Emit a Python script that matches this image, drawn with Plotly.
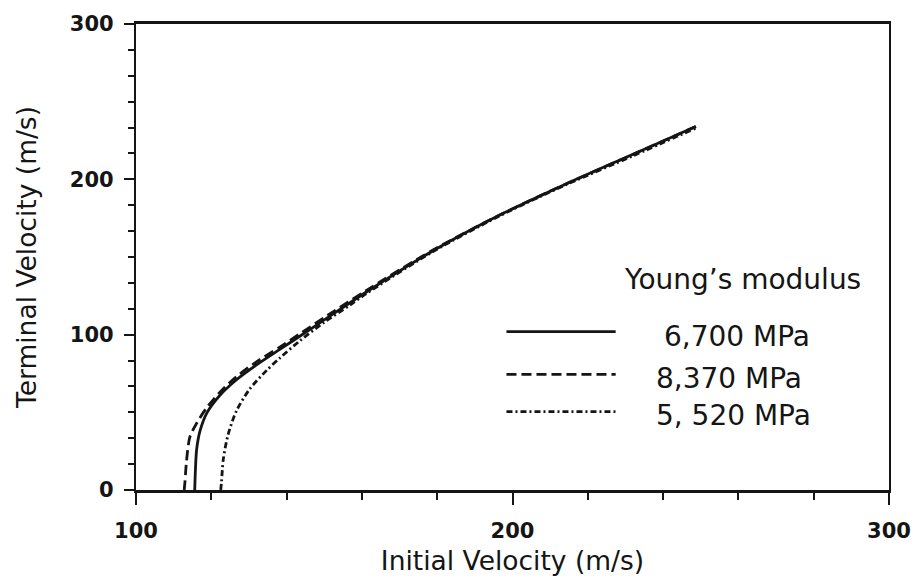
import plotly.graph_objects as go

# ---- data ----
series_names = ["6,700 MPa", "8,370 MPa", "5, 520 MPa"]
legend_title = "Young’s modulus"

x_6700 = [115.6, 115.8, 116.1, 117.0, 118.8, 122.3, 126.7, 132.0, 138.2, 143.5, 150.0, 161.2, 178.9, 196.6, 214.2, 231.9, 248.7]
y_6700 = [0, 14, 26, 38, 49.5, 61, 71, 80.5, 90.5, 99, 109.5, 127.5, 154, 177, 197, 216, 234]

x_8370 = [112.8, 113.0, 113.4, 114.3, 116.1, 118.8, 122.3, 126.7, 132.0, 138.2, 143.5, 150.0, 161.2, 178.9, 196.6, 214.2, 231.9, 248.7]
y_8370 = [0, 5, 18, 34, 43, 53, 63, 73, 82.5, 92, 100.5, 111, 128.5, 154.5, 177, 197, 216, 234]

x_5520 = [122.5, 122.7, 123.2, 124.5, 126.7, 130.2, 134.7, 138.2, 143.5, 150.0, 156.8, 161.2, 178.9, 196.6, 214.2, 231.9, 248.7]
y_5520 = [0, 5, 20, 36, 51, 65, 77, 85, 96, 108, 119, 126.5, 153.5, 176.5, 196.5, 215, 233]

x_ticks = [100, 200, 300]
x_tick_labels = ["100", "200", "300"]
y_ticks = [0, 100, 200, 300]
y_tick_labels = ["0", "100", "200", "300"]

x_title = "Initial Velocity (m/s)"
y_title = "Terminal Velocity (m/s)"

# ---- styling ----
INK = "#151515"
FONT = "DejaVu Sans"
dashes = ["solid", "10px,5px", "6px,3px,2px,3px"]

fig = go.Figure()
for xs, ys, name, dash in zip([x_6700, x_8370, x_5520], [y_6700, y_8370, y_5520], series_names, dashes):
    fig.add_trace(go.Scatter(x=xs, y=ys, mode="lines", name=name,
                             line=dict(color=INK, width=2.8, dash=dash, shape="spline", smoothing=0.8),
                             showlegend=False))

# custom legend (samples + labels)
legend_rows_y = [0.340, 0.248, 0.168]
legend_text_y = [0.329, 0.240, 0.159]
legend_text_x = [0.698, 0.688, 0.688]
for name, dash, ly, ty, tx in zip(series_names, dashes, legend_rows_y, legend_text_y, legend_text_x):
    fig.add_shape(type="line", xref="paper", yref="paper", x0=0.492, x1=0.637, y0=ly, y1=ly,
                  line=dict(color=INK, width=2.8, dash=dash))
    fig.add_annotation(xref="paper", yref="paper", x=tx, y=ty, text=name, showarrow=False,
                       xanchor="left", yanchor="middle", font=dict(family=FONT, size=28, color=INK))
fig.add_annotation(xref="paper", yref="paper", x=0.646, y=0.452, text=legend_title, showarrow=False,
                   xanchor="left", yanchor="middle", font=dict(family=FONT, size=28, color=INK))

fig.update_layout(
    width=923, height=585,
    margin=dict(l=136, r=33, t=19, b=95),
    paper_bgcolor="white", plot_bgcolor="white",
    font=dict(family=FONT, color=INK),
)
fig.update_xaxes(
    range=[100, 300], tickvals=x_ticks, ticktext=x_tick_labels,
    showgrid=False, zeroline=False,
    showline=True, linecolor=INK, linewidth=2.8, mirror=True,
    ticks="outside", ticklen=12, tickwidth=2, tickcolor=INK,
    minor=dict(dtick=20, ticks="outside", ticklen=7, tickwidth=2, tickcolor=INK, showgrid=False),
    tickfont=dict(family=FONT, size=21, color=INK, weight="bold"),
    ticklabelstandoff=8,
    title=dict(text=x_title, font=dict(family=FONT, size=26.5, color=INK), standoff=10),
)
fig.update_yaxes(
    range=[0, 300], tickvals=y_ticks, ticktext=y_tick_labels,
    showgrid=False, zeroline=False,
    showline=True, linecolor=INK, linewidth=2.2, mirror=True,
    ticks="outside", ticklen=10, tickwidth=2, tickcolor=INK,
    minor=dict(dtick=100/6, ticks="outside", ticklen=6, tickwidth=2, tickcolor=INK, showgrid=False),
    tickfont=dict(family=FONT, size=21, color=INK, weight="bold"),
    ticklabelstandoff=6,
    title=dict(text=y_title, font=dict(family=FONT, size=26.5, color=INK), standoff=26),
)

fig.write_html("out.html")
